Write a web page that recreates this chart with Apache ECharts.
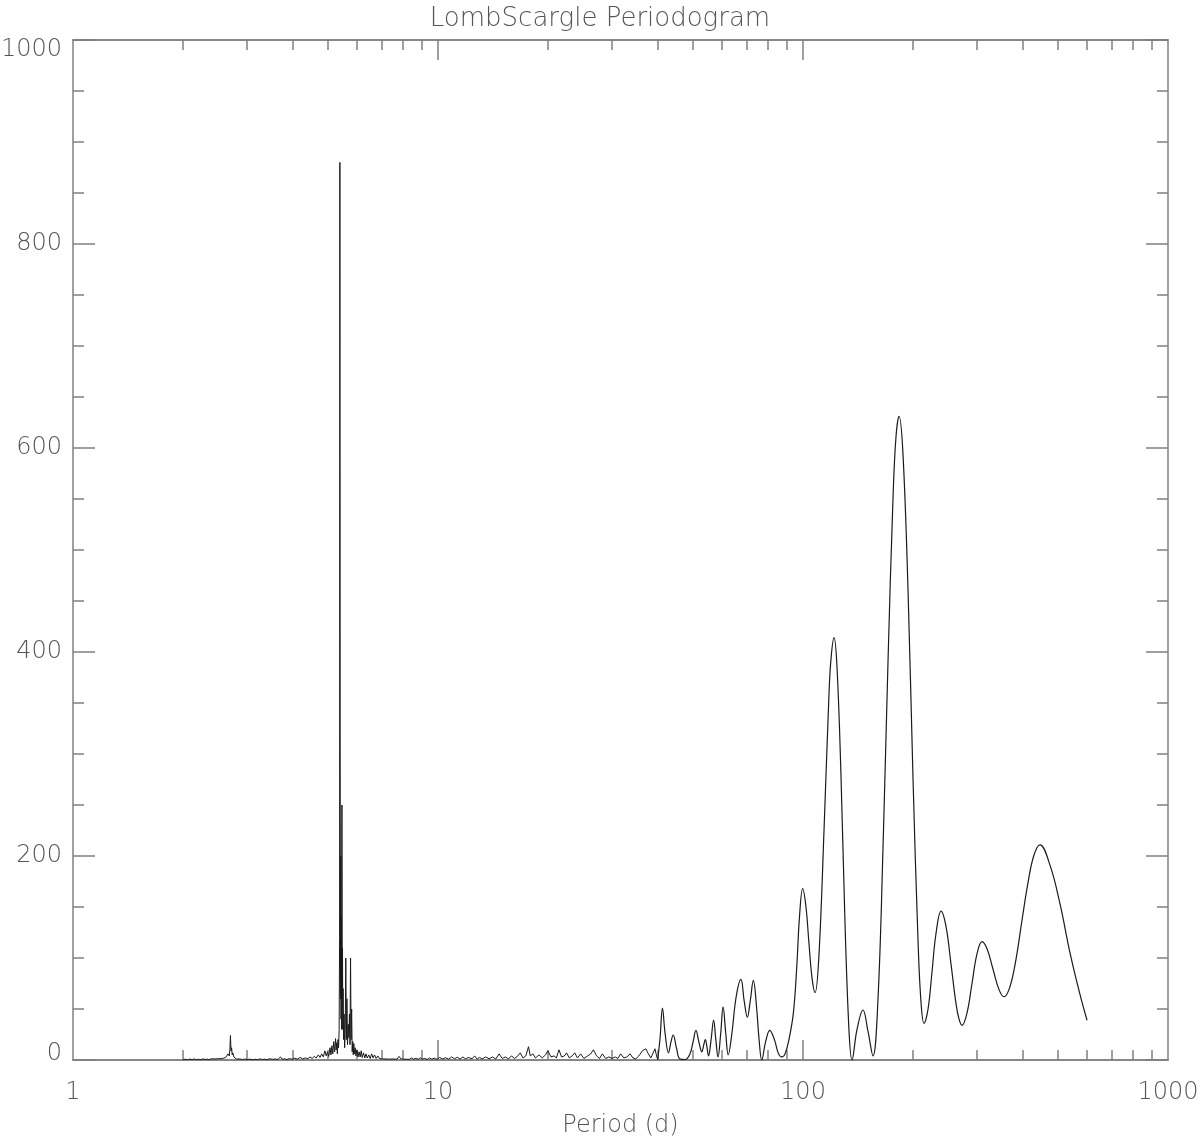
<!DOCTYPE html>
<html>
<head>
<meta charset="utf-8">
<title>LombScargle Periodogram</title>
<script src="https://cdn.jsdelivr.net/npm/echarts@6/dist/echarts.min.js"></script>
<style>
  html, body { margin: 0; padding: 0; background: #fff; }
  #chart { width: 1200px; height: 1141px; }
</style>
</head>
<body>
<div id="chart"></div>
<script>
// x tick values (log axis, period in days)
var xLabelValues = [1, 10, 100, 1000];
var xMajorTicks = [10, 100];
var xMinorTicks = [2, 3, 4, 5, 6, 7, 8, 9, 20, 30, 40, 50, 60, 70, 80, 90, 200, 300, 400, 500, 600, 700, 800, 900];

// short periods: noisy part of the periodogram
var noisePeriod = [
  2.00, 2.03, 2.06, 2.09, 2.12, 2.15, 2.18, 2.21, 2.24, 2.27, 2.30, 2.33, 2.36, 2.39, 2.42, 2.45, 2.48, 2.51, 2.54, 2.57,
  2.60, 2.62, 2.64, 2.66, 2.68, 2.69, 2.70, 2.71, 2.72, 2.73, 2.74, 2.76, 2.78, 2.80, 2.83, 2.87, 2.91, 2.95, 3.00, 3.05,
  3.10, 3.15, 3.20, 3.25, 3.30, 3.35, 3.40, 3.46, 3.52, 3.58, 3.64, 3.70, 3.74, 3.80, 3.86, 3.92, 3.98, 4.05, 4.12, 4.19,
  4.26, 4.33, 4.40, 4.46, 4.52, 4.58, 4.64, 4.70, 4.75, 4.80, 4.85, 4.90, 4.94, 4.98, 5.02, 5.06, 5.09, 5.12, 5.15, 5.18,
  5.21, 5.24, 5.26, 5.28, 5.30, 5.32, 5.34, 5.36, 5.375, 5.385, 5.395, 5.405, 5.415, 5.425, 5.435, 5.445, 5.455, 5.465, 5.475, 5.485,
  5.495, 5.51, 5.53, 5.55, 5.57, 5.59, 5.61, 5.63, 5.65, 5.68, 5.70, 5.72, 5.74, 5.76, 5.78, 5.80, 5.82, 5.84, 5.86, 5.88,
  5.90, 5.93, 5.96, 6.00, 6.04, 6.08, 6.12, 6.16, 6.20, 6.25, 6.30, 6.35, 6.40, 6.46, 6.52, 6.58, 6.64, 6.70, 6.77, 6.84,
  6.91, 6.98, 7.05, 7.12, 7.20, 7.28, 7.36, 7.45, 7.54, 7.62, 7.72, 7.82, 7.92, 8.02, 8.12, 8.22, 8.34, 8.46, 8.58, 8.70,
  8.82, 8.94, 9.06, 9.20, 9.34, 9.48, 9.62, 9.78, 9.94, 10.1, 10.3, 10.5, 10.7, 10.9, 11.1, 11.3, 11.5, 11.7, 11.9, 12.1,
  12.4, 12.6, 12.8, 13.0, 13.2, 13.5, 13.8, 14.1, 14.4, 14.7, 15.0, 15.3, 15.6, 15.9, 16.2, 16.5, 16.8, 17.1, 17.4, 17.7,
  17.9, 18.2, 18.5, 18.9, 19.3, 19.7, 20.0, 20.4, 20.8, 21.1, 21.45, 21.8, 22.2, 22.5, 22.9, 23.3, 23.7, 24.1, 24.6, 25.1,
  25.7, 26.2, 26.65, 27.2, 27.7, 28.2, 28.8, 29.4, 30.0, 30.6, 31.1, 31.65, 32.3, 32.9, 33.6, 34.2, 34.8, 35.5, 36.3, 37.1,
  37.7, 38.3, 38.6, 39.3, 39.7, 40.0
];
var noisePower = [
  0.3, 0.8, 0.2, 0.9, 0.4, 1.0, 0.3, 0.7, 0.2, 1.1, 0.5, 0.9, 0.3, 1.2, 0.6, 1.0, 0.4, 1.3, 0.8, 1.5,
  1.0, 2.5, 3.5, 6, 4, 10, 24, 9, 12, 5, 7, 3, 2, 1, 0.6, 1.0, 0.4, 0.9, 0.5, 0.8,
  0.3, 0.7, 0.4, 1.0, 0.5, 0.8, 0.4, 1.2, 0.6, 1.0, 0.5, 3.0, 0.8, 1.1, 0.5, 1.4, 0.7, 1.8, 0.8, 2.5,
  1.0, 2.0, 1.2, 3.0, 1.5, 3.5, 2.0, 5.0, 2.5, 6.0, 3.0, 9.0, 4.0, 8.0, 3.5, 12, 5, 14, 6, 18,
  8, 21, 10, 17, 6, 20, 12, 30, 120, 880, 300, 60, 200, 40, 140, 30, 250, 60, 110, 30,
  70, 20, 45, 12, 30, 100, 20, 60, 15, 35, 22, 45, 15, 100, 20, 50, 8, 18, 5, 16,
  6, 12, 4, 10, 3, 8, 3, 9, 2.5, 7, 2, 6, 2, 5, 1.5, 6, 2, 5, 1.5, 4,
  1.5, 3, 1, 2.5, 1, 2, 0.8, 2.5, 1, 2, 0.8, 3.5, 1, 2, 0.8, 1.8, 0.6, 2.0, 0.8, 1.6,
  0.6, 2.2, 0.8, 1.5, 0.5, 2.0, 0.8, 1.8, 0.6, 2.5, 1.0, 2.2, 0.8, 3.0, 1.2, 2.6, 1.0, 3.0, 1.0, 2.5,
  1.2, 4.0, 1.0, 2.5, 1.0, 3.0, 1.2, 3.0, 1.0, 6.0, 1.5, 3.0, 1.0, 4.0, 1.5, 3.5, 7.0, 2.0, 4.0, 13,
  4, 6, 2, 5, 2, 5, 9, 3, 4, 2, 10, 3, 4, 7, 2, 4, 7, 2, 6, 1.5,
  4, 6, 10, 4, 1.5, 6, 1.5, 3, 1.5, 3, 1.5, 6, 2, 3, 6, 2, 1, 4, 9, 11,
  6, 2, 3, 11, 4, 0.5
];

// long periods: smooth part of the periodogram
var smoothPeriod = [
  40.0, 40.6, 41.2, 41.9, 42.8, 43.5, 44.1, 45.0, 46.0, 47.5, 49.0, 50.0, 50.9, 51.9, 52.8, 53.4, 54.0, 54.6, 55.1, 56.0,
  56.9, 57.7, 58.5, 59.5, 60.4, 61.4, 62.4, 63.8, 65.6, 67.6, 69.0, 70.4, 71.7, 73.1, 74.6, 75.8, 77.1, 79.0, 81.1, 83.5,
  85.5, 87.4, 89.3, 91.5, 94.1, 96.1, 97.8, 99.8, 101.9, 103.8, 105.9, 107.9, 110.6, 114.2, 117.8, 119.3, 121.6, 123.9, 127.1, 130.3,
  133.7, 136.2, 140.6, 146.0, 150.7, 155.5, 160.5, 165.6, 171.0, 176.5, 179.8, 183.3, 187.9, 194.0, 200.1, 206.6, 210.5, 214.6, 220.1, 225.6,
  231.4, 238.9, 246.5, 254.4, 262.6, 267.6, 272.6, 281.4, 290.4, 299.7, 309.4, 319.3, 331.6, 344.4, 355.4, 369.1, 383.4, 398.1, 413.5, 429.4,
  446.0, 475.0, 506.0, 538.9, 574.1, 600.0
];
var smoothPower = [
  0.5, 22, 51, 26, 7, 18, 24.5, 12, 1, 0.5, 6, 18, 29, 17, 8, 14, 20, 12, 4, 20,
  39, 20, 3, 26, 52, 27, 5, 25, 62, 79, 58, 42, 58, 78, 52, 20, 0, 18, 29, 20,
  7, 3, 6, 20, 46, 90, 140, 168, 150, 115, 80, 66, 103, 226, 358, 393, 414, 386, 278, 136,
  28, 0, 30, 49, 28, 4, 60, 206, 392, 552, 611, 631, 594, 460, 278, 117, 57, 36, 50, 86,
  124, 146, 131, 94, 55, 40, 34, 46, 75, 104, 116, 109, 89, 69, 62, 72, 99, 137, 174, 201,
  211, 191, 153, 105, 64, 39
];

var noiseData = noisePeriod.map(function (p, i) { return [p, noisePower[i]]; });
var smoothData = smoothPeriod.map(function (p, i) { return [p, smoothPower[i]]; });

var axisGrey = '#808080';
var textGrey = '#555';
var fontFam = '"DejaVu Sans", sans-serif';
var labelFont = { fontSize: 24, fontFamily: fontFam, fontWeight: 200, color: textGrey };

// plain numbers, no thousands separator
function plainLabel(v) { return String(Math.round(v)); }

// y labels: end labels sit inside the axis range like in the original
function yLabel(v) {
  if (v === 0) return '{lo|0}';
  if (v === 1000) return '{hi|1000}';
  return String(v);
}

function xAxisDef(pos, ticks, len, labels) {
  return {
    type: 'log',
    logBase: 10,
    position: pos,
    min: 1,
    max: 1000,
    axisLine: { show: true, lineStyle: { color: axisGrey, width: 1.5 } },
    axisTick: { show: true, inside: true, length: len, customValues: ticks,
                lineStyle: { color: axisGrey, width: 1.5 } },
    axisLabel: labels ? Object.assign({
      show: true, customValues: xLabelValues, margin: 21, formatter: plainLabel
    }, labelFont) : { show: false },
    splitLine: { show: false }
  };
}

function yAxisDef(pos, labels) {
  return {
    type: 'value',
    position: pos,
    min: 0,
    max: 1000,
    interval: 200,
    axisLine: { show: true, lineStyle: { color: axisGrey, width: 1.5 } },
    axisTick: { show: true, inside: true, length: 22, lineStyle: { color: axisGrey, width: 1.5 } },
    minorTick: { show: true, splitNumber: 4, length: 11, lineStyle: { color: axisGrey, width: 1.5 } },
    axisLabel: labels ? Object.assign({
      show: true, margin: 11, formatter: yLabel,
      rich: {
        lo: Object.assign({ padding: [0, 0, 12, 0] }, labelFont),
        hi: Object.assign({ padding: [20, 0, 0, 0] }, labelFont)
      }
    }, labelFont) : { show: false },
    splitLine: { show: false }
  };
}

var chart = echarts.init(document.getElementById('chart'));

var xMain = xAxisDef('bottom', xMajorTicks, 20, true);
xMain.name = 'Period (d)';
xMain.nameLocation = 'middle';
xMain.nameGap = 54;
xMain.nameTextStyle = labelFont;

chart.setOption({
  animation: false,
  backgroundColor: '#fff',
  title: {
    text: 'LombScargle Periodogram',
    left: 'center',
    top: 1,
    textStyle: { fontSize: 26, fontFamily: fontFam, fontWeight: 200, color: textGrey }
  },
  grid: { left: 73, top: 40, right: 32, bottom: 81, containLabel: false, outerBoundsMode: 'none' },
  xAxis: [
    xMain,
    xAxisDef('bottom', xMinorTicks, 10, false),
    xAxisDef('top', xMajorTicks, 20, false),
    xAxisDef('top', xMinorTicks, 10, false)
  ],
  yAxis: [
    yAxisDef('left', true),
    yAxisDef('right', false)
  ],
  series: [
    {
      type: 'line',
      xAxisIndex: 0,
      yAxisIndex: 0,
      data: noiseData,
      showSymbol: false,
      smooth: false,
      lineStyle: { color: '#1a1a1a', width: 1 }
    },
    {
      type: 'line',
      xAxisIndex: 0,
      yAxisIndex: 0,
      data: smoothData,
      showSymbol: false,
      smooth: 0.4,
      lineStyle: { color: '#1a1a1a', width: 1.2 }
    }
  ]
});
</script>
</body>
</html>
